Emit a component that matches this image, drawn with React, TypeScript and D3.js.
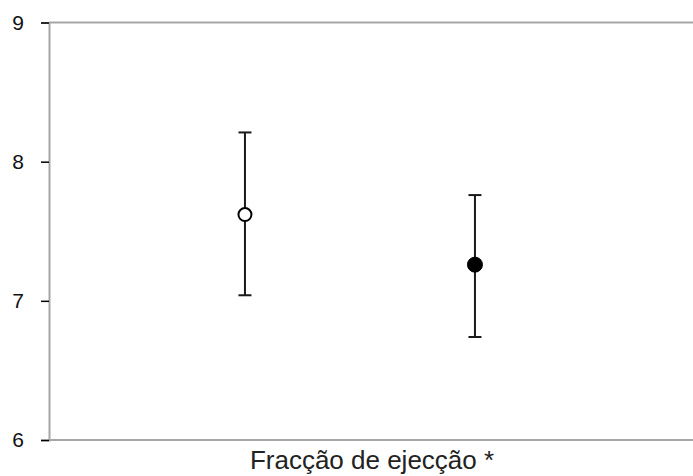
import React, { useEffect, useRef } from 'react';
import * as d3 from 'd3';

// groups along the x axis (numeric position), mean and error bar limits
const groups = ['open', 'filled'];
const xPos = [1, 2];
const means = [7.62, 7.26];
const lows = [7.04, 6.74];
const highs = [8.21, 7.76];
const yTicks = [6, 7, 8, 9];
const xLabel = 'Fracção de ejecção *';

const App = () => {
  const ref = useRef<SVGSVGElement>(null);

  useEffect(() => {
    const svg = d3.select(ref.current);
    svg.selectAll('*').remove();

    const width = 693, height = 476;
    const margin = { top: 22.5, right: 0, bottom: 36, left: 49 };

    const y = d3.scaleLinear().domain([6, 9]).range([height - margin.bottom, margin.top]);
    const x = d3.scaleLinear().domain([0.148, 2.948]).range([margin.left, width - margin.right]);

    // top and bottom frame lines
    svg.append('line')
      .attr('x1', margin.left).attr('x2', width)
      .attr('y1', y(9)).attr('y2', y(9))
      .attr('stroke', '#a6a6a6').attr('stroke-width', 2);
    svg.append('line')
      .attr('x1', margin.left).attr('x2', width)
      .attr('y1', y(6)).attr('y2', y(6))
      .attr('stroke', '#a6a6a6').attr('stroke-width', 2);

    // left axis
    const yAxis = svg.append('g')
      .attr('transform', 'translate(' + margin.left + ',0)')
      .call(d3.axisLeft(y).tickValues(yTicks).tickFormat(d3.format('d')).tickSize(8).tickPadding(17));
    yAxis.attr('font-size', 21).attr('font-family', 'Liberation Sans, Arial, sans-serif');
    yAxis.select('.domain').attr('stroke', '#a6a6a6').attr('stroke-width', 2);
    yAxis.selectAll('.tick line').attr('stroke', '#000').attr('stroke-width', 1.5);
    yAxis.selectAll('.tick text')
      .attr('font-size', 21)
      .attr('fill', '#111');

    // error bars
    const g = svg.append('g');
    groups.forEach((grp, i) => {
      const cx = x(xPos[i]);
      g.append('line')
        .attr('x1', cx).attr('x2', cx)
        .attr('y1', y(lows[i])).attr('y2', y(highs[i]))
        .attr('stroke', '#1a1a1a').attr('stroke-width', 2);
      [lows[i], highs[i]].forEach(v => {
        g.append('line')
          .attr('x1', cx - 6.5).attr('x2', cx + 6.5)
          .attr('y1', y(v)).attr('y2', y(v))
          .attr('stroke', '#1a1a1a').attr('stroke-width', 2);
      });
      g.append('circle')
        .attr('cx', cx).attr('cy', y(means[i]))
        .attr('r', grp === 'open' ? 6.5 : 7.5)
        .attr('fill', grp === 'open' ? '#fff' : '#000')
        .attr('stroke', '#000')
        .attr('stroke-width', grp === 'open' ? 2 : 1);
    });

    svg.append('text')
      .attr('x', 372).attr('y', 469)
      .attr('text-anchor', 'middle')
      .attr('font-family', 'Liberation Sans, Arial, sans-serif')
      .attr('font-size', 26)
      .attr('fill', '#222')
      .text(xLabel);
  }, []);

  return (
    <svg ref={ref} width={693} height={476}
      style={{ position: 'absolute', left: 0, top: 0, background: '#fff' }} />
  );
};

export default App;
